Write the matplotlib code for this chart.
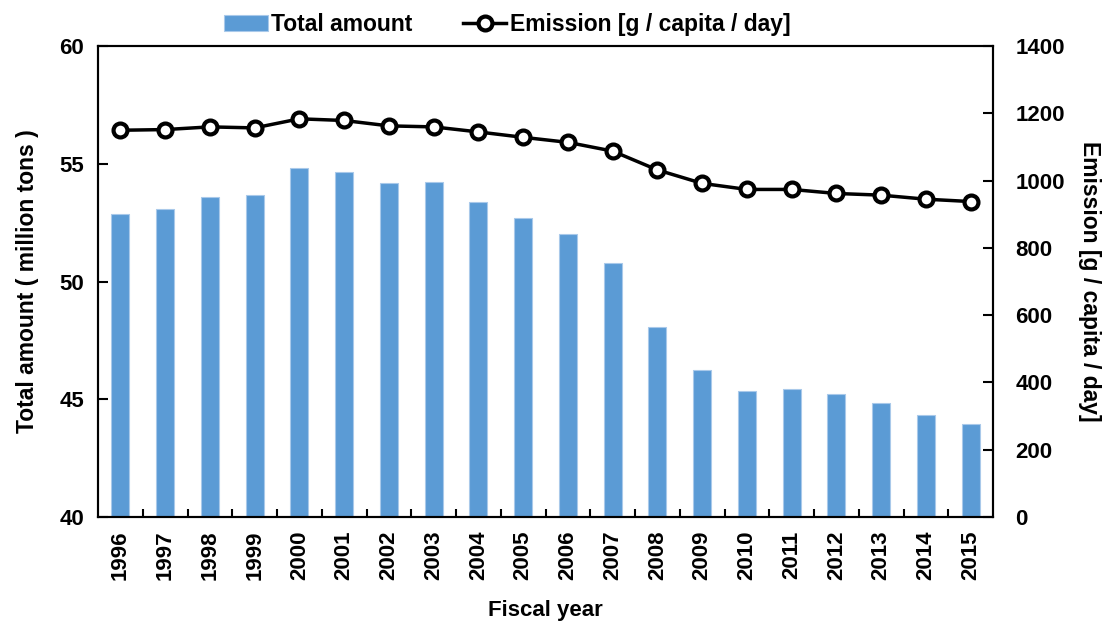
import matplotlib.pyplot as plt
import numpy as np

plt.rcParams['font.family'] = ['Liberation Sans', 'DejaVu Sans']
plt.rcParams['font.weight'] = 'bold'

years = ['1996', '1997', '1998', '1999', '2000', '2001', '2002', '2003', '2004', '2005',
         '2006', '2007', '2008', '2009', '2010', '2011', '2012', '2013', '2014', '2015']
total_amount = [52.87, 53.08, 53.58, 53.67, 54.82, 54.65, 54.17, 54.25, 53.36, 52.70,
                52.02, 50.79, 48.09, 46.25, 45.36, 45.43, 45.23, 44.86, 44.32, 43.97]
emission = [1150, 1152, 1160, 1157, 1184, 1179, 1163, 1160, 1145, 1129,
            1114, 1088, 1032, 992, 974, 974, 962, 957, 945, 938]

fig = plt.figure(figsize=(11.1, 6.24), dpi=100)
ax = fig.add_axes([0.0883, 0.1715, 0.8063, 0.7545])
ax2 = ax.twinx()

x = np.arange(len(years))
bars = ax.bar(x, total_amount, width=0.4, color='#5B9BD5', edgecolor='#A9C9EA',
              linewidth=0.8, label='Total amount', zorder=2)
line, = ax2.plot(x, emission, color='black', lw=2.5, marker='o', markersize=10,
                 markerfacecolor='white', markeredgecolor='black', markeredgewidth=3,
                 label='Emission [g / capita / day]')

ax.set_ylim(40, 60)
ax.set_yticks([40, 45, 50, 55, 60])
ax2.set_ylim(0, 1400)
ax2.set_yticks(range(0, 1401, 200))
ax.set_xlim(-0.5, len(years) - 0.5)
ax.set_xticks(x)
ax.set_xticklabels(years, rotation=90, fontsize=16, fontweight='bold')
ax.set_xticks(np.arange(0.5, len(years) - 1, 1), minor=True)
ax.tick_params(axis='x', which='major', length=0, pad=10)
ax.tick_params(axis='x', which='minor', direction='in', length=6, width=1.5)
ax.tick_params(axis='y', direction='in', length=7, width=1.5, labelsize=16, pad=10)
ax2.tick_params(axis='y', direction='in', length=7, width=1.5, labelsize=16, pad=16)
for t in ax.get_yticklabels() + ax2.get_yticklabels():
    t.set_fontweight('bold')

for a in (ax, ax2):
    for s in a.spines.values():
        s.set_linewidth(1.5)

ax.set_ylabel('Total amount ( million tons )', fontsize=16.5, fontweight='bold', labelpad=15)
ax2.set_ylabel('Emission [g / capita / day]', fontsize=16.5, fontweight='bold',
               rotation=-90, labelpad=26)
ax.set_xlabel('Fiscal year', fontsize=16, fontweight='bold', labelpad=14)

fig.legend([bars, line], ['Total amount', 'Emission [g / capita / day]'],
           loc='upper center', bbox_to_anchor=(0.457, 1.012), ncol=2, frameon=False,
           handlelength=1.9, columnspacing=2.2, handletextpad=0.15,
           prop={'weight': 'bold', 'size': 16.5})

fig.savefig('out.png', dpi=100)
